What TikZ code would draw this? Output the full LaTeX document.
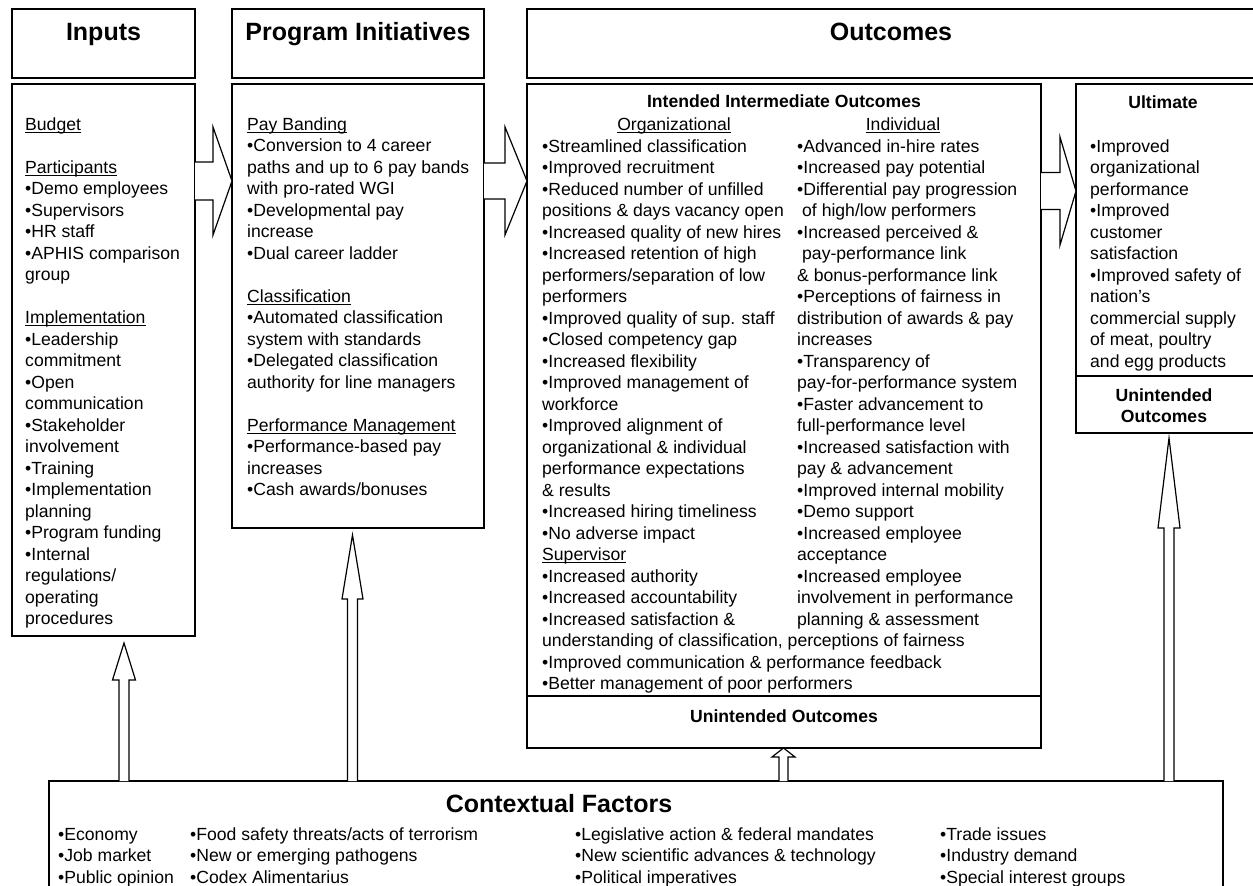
\documentclass[tikz,border=0pt]{standalone}
\usepackage{fontspec}
\setmainfont{Liberation Sans}
\usetikzlibrary{calc}
\newsavebox\ulbox
\newcommand\ulx[1]{\sbox\ulbox{#1}\rlap{\rule[-2.4pt]{\wd\ulbox}{0.9pt}}\usebox\ulbox}
% right-pointing hollow block arrow: src node, tgt node, y, shaft half, head half, head length
\newcommand\rblock[6]{%
  \draw[blockarrow] let \p1=(#1.east), \p2=(#2.west) in
   (\x1,{-(#3-#4)*1pt}) -- ({\x2-#6*1pt},{-(#3-#4)*1pt}) -- ({\x2-#6*1pt},{-(#3-#5)*1pt})
   -- (\x2,{-#3*1pt}) -- ({\x2-#6*1pt},{-(#3+#5)*1pt}) -- ({\x2-#6*1pt},{-(#3+#4)*1pt})
   -- (\x1,{-(#3+#4)*1pt});}
% upward hollow block arrow: src node, tgt node, x, shaft half, head half, head length, gap
\newcommand\ublock[7]{%
  \draw[blockarrow] let \p1=(#1.north), \p2=(#2.south) in
   ({(#3-#4)*1pt},\y1) -- ({(#3-#4)*1pt},{\y2-(#7+#6)*1pt}) -- ({(#3-#5)*1pt},{\y2-(#7+#6)*1pt})
   -- ({#3*1pt},{\y2-#7*1pt}) -- ({(#3+#5)*1pt},{\y2-(#7+#6)*1pt}) -- ({(#3+#4)*1pt},{\y2-(#7+#6)*1pt})
   -- ({(#3+#4)*1pt},\y1);}
\begin{document}
\begin{tikzpicture}[x=1pt,y=-1pt,
  box/.style={draw, line width=1.3pt, inner sep=0, outer sep=0, anchor=north west},
  txt/.style={inner sep=0, align=left, anchor=north west, font=\fontsize{17.6}{21.5}\selectfont},
  htitle/.style={inner sep=0, anchor=base, font=\bfseries\fontsize{25}{30}\selectfont},
  stitle/.style={inner sep=0, anchor=base, font=\bfseries\fontsize{17.6}{21.5}\selectfont},
  utitle/.style={inner sep=0, anchor=base, font=\fontsize{17.6}{21.5}\selectfont},
  blockarrow/.style={draw, fill=white, line width=1.2pt, line join=miter}]
\clip (0,0) rectangle (1253,886);
\fill[white] (0,0) rectangle (1253,886);

% header boxes
\node[box, minimum width=183pt, minimum height=69pt] (hInputs) at (12,9) {};
\node[box, minimum width=252pt, minimum height=69pt] (hProgram) at (232,9) {};
\node[box, minimum width=732pt, minimum height=69pt] (hOutcomes) at (527,9) {};
\node[htitle] (tInputs) at (103.5,40) {Inputs};
\node[htitle] (tProgram) at (358,40) {Program Initiatives};
\node[htitle] (tOutcomes) at (891,40) {Outcomes};

% content boxes
\node[box, minimum width=183pt, minimum height=552pt] (inputs) at (12,84) {};
\node[box, minimum width=252pt, minimum height=444pt] (program) at (232,84) {};
\node[box, minimum width=514pt, minimum height=612pt] (inter) at (527,84) {};
\node[box, minimum width=514pt, minimum height=52pt] (interU) at (527,696) {};
\node[box, minimum width=183pt, minimum height=292pt] (ult) at (1076,84) {};
\node[box, minimum width=183pt, minimum height=57pt] (ultU) at (1076,376) {};
\node[box, minimum width=1174pt, minimum height=130pt] (context) at (49,781) {};

% inputs text
\node[txt] (inputsT) at (25,114.95) {\strut\ulx{Budget}\\[21.5pt]
\ulx{Participants}\\
•Demo employees\\
•Supervisors\\
•HR staff\\
•APHIS comparison\\
group\\[21.5pt]
\ulx{Implementation}\\
•Leadership\\
commitment\\
•Open\\
communication\\
•Stakeholder\\
involvement\\
•Training\\
•Implementation\\
planning\\
•Program funding\\
•Internal\\
regulations/\\
operating\\
procedures};

% program text
\node[txt] (programT) at (247,114.95) {\strut\ulx{Pay Banding}\\
•Conversion to 4 career\\
paths and up to 6 pay bands\\
with pro-rated WGI\\
•Developmental pay\\
increase\\
•Dual career ladder\\[21.5pt]
\ulx{Classification}\\
•Automated classification\\
system with standards\\
•Delegated classification\\
authority for line managers\\[21.5pt]
\ulx{Performance Management}\\
•Performance-based pay\\
increases\\
•Cash awards/bonuses};

% intermediate outcomes
\node[stitle] (interTitle) at (784,107) {Intended Intermediate Outcomes};
\node[utitle] (orgTitle) at (674,130) {\ulx{Organizational}};
\node[utitle] (indTitle) at (903,130) {\ulx{Individual}};
\node[txt] (orgT) at (542,136.95) {\strut•Streamlined classification\\
•Improved recruitment\\
•Reduced number of unfilled\\
positions \& days vacancy open\\
•Increased quality of new hires\\
•Increased retention of high\\
performers/separation of low\\
performers\\
•Improved quality of sup. staff\\
•Closed competency gap\\
•Increased flexibility\\
•Improved management of\\
workforce\\
•Improved alignment of\\
organizational \& individual\\
performance expectations\\
\& results\\
•Increased hiring timeliness\\
•No adverse impact\\
\ulx{Supervisor}\\
•Increased authority\\
•Increased accountability\\
•Increased satisfaction \&\\
understanding of classification, perceptions of fairness\\
•Improved communication \& performance feedback\\
•Better management of poor performers};
\node[txt] (indT) at (797,136.95) {\strut•Advanced in-hire rates\\
•Increased pay potential\\
•Differential pay progression\\
\hspace*{5pt}of high/low performers\\
•Increased perceived \&\\
\hspace*{5pt}pay-performance link\\
\& bonus-performance link\\
•Perceptions of fairness in\\
distribution of awards \& pay\\
increases\\
•Transparency of\\
pay-for-performance system\\
•Faster advancement to\\
full-performance level\\
•Increased satisfaction with\\
pay \& advancement\\
•Improved internal mobility\\
•Demo support\\
•Increased employee\\
acceptance\\
•Increased employee\\
involvement in performance\\
planning \& assessment};
\node[stitle] (interUT) at (784,722) {Unintended Outcomes};

% ultimate
\node[stitle] (ultTitle) at (1163,108) {Ultimate};
\node[txt] (ultT) at (1090,136.95) {\strut•Improved\\
organizational\\
performance\\
•Improved\\
customer\\
satisfaction\\
•Improved safety of\\
nation’s\\
commercial supply\\
of meat, poultry\\
and egg products};
\node[txt, align=center, anchor=north, font=\bfseries\fontsize{17.6}{21.5}\selectfont] (ultUT) at (1164,385.95) {\strut Unintended\\Outcomes};

% contextual factors
\node[htitle] (ctxTitle) at (559,812) {Contextual Factors};
\node[txt] (ctx1) at (58,824.95) {\strut•Economy\\•Job market\\•Public opinion};
\node[txt] (ctx2) at (190,824.95) {\strut•Food safety threats/acts of terrorism\\•New or emerging pathogens\\•Codex Alimentarius};
\node[txt] (ctx3) at (575,824.95) {\strut•Legislative action \& federal mandates\\•New scientific advances \& technology\\•Political imperatives};
\node[txt] (ctx4) at (940,824.95) {\strut•Trade issues\\•Industry demand\\•Special interest groups};

% right block arrows
\rblock{inputs}{program}{181}{19}{54}{19}
\rblock{program}{inter}{181}{18}{54}{22}
\rblock{inter}{ult}{191}{18.5}{54}{16}

% upward arrows
\ublock{context}{inputs}{124}{5}{11.5}{37}{7}
\ublock{context}{program}{352.5}{5}{10.5}{64}{7}
\ublock{context}{ultU}{1169}{5}{11}{90}{5}
\ublock{context}{interU}{783.5}{4.5}{11.5}{9}{0}
\end{tikzpicture}
\end{document}
